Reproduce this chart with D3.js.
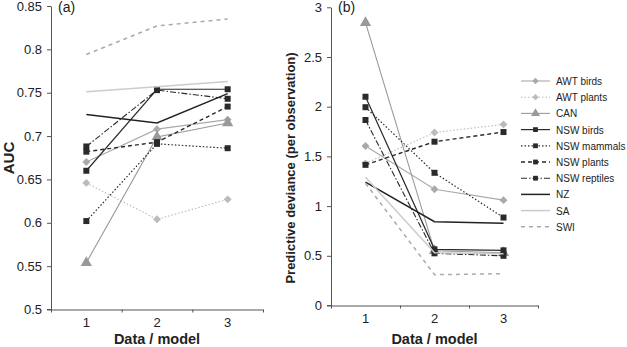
<!DOCTYPE html>
<html>
<head>
<meta charset="utf-8">
<script src="https://cdn.jsdelivr.net/npm/d3@7"></script>
<style>
body{margin:0;background:#fff;}
text{font-family:"Liberation Sans",Arial,sans-serif;}
</style>
</head>
<body>
<div id="chart"></div>
<script>
var categories=[1,2,3];
var seriesNames=["AWT birds","AWT plants","CAN","NSW birds","NSW mammals","NSW plants","NSW reptiles","NZ","SA","SWI"];
// panel (a) AUC, one array per series, same order as seriesNames
var aucValues=[
	[0.670,0.708,0.719],
	[0.646,0.604,0.627],
	[0.554,0.699,0.715],
	[0.660,0.754,0.754],
	[0.602,0.691,0.686],
	[0.682,0.693,0.734],
	[0.688,0.753,0.743],
	[0.725,0.715,0.749],
	[0.751,0.757,0.763],
	[0.794,0.827,0.835]
];
// panel (b) predictive deviance
var devValues=[
	[1.605,1.170,1.060],
	[1.430,1.740,1.822],
	[2.845,0.550,0.530],
	[2.100,0.565,0.555],
	[1.995,1.335,0.885],
	[1.415,1.648,1.745],
	[1.866,0.525,0.500],
	[1.242,0.843,0.827],
	[1.290,0.530,0.520],
	[1.230,0.310,0.320]
];
var aucTicks=[0.5,0.55,0.6,0.65,0.7,0.75,0.8,0.85];
var devTicks=[0,0.5,1,1.5,2,2.5,3];

// line / marker look for each series
var styles={
	"AWT birds":{color:"#aaa",dash:null,marker:"diamond",w:1.1},
	"AWT plants":{color:"#bbb",dash:"1.5,2",marker:"diamond",w:1.1},
	"CAN":{color:"#999",dash:null,marker:"triangle",w:1.1},
	"NSW birds":{color:"#2a2a2a",dash:null,marker:"square",w:1.2},
	"NSW mammals":{color:"#2a2a2a",dash:"1.5,2",marker:"square",w:1.2},
	"NSW plants":{color:"#2a2a2a",dash:"4,3",marker:"square",w:1.4},
	"NSW reptiles":{color:"#2a2a2a",dash:"6,2,1.5,2",marker:"square",w:1.1},
	"NZ":{color:"#222",dash:null,marker:null,w:1.5},
	"SA":{color:"#ccc",dash:null,marker:null,w:1.5},
	"SWI":{color:"#aaa",dash:"4,4",marker:null,w:1.5}
};

var svg=d3.select("#chart").append("svg").attr("width",627).attr("height",347);

function markerPath(type){
	if(type=="diamond")return d3.symbol().type(d3.symbolDiamond2).size(40)();
	if(type=="triangle")return d3.symbol().type(d3.symbolTriangle).size(55)();
	if(type=="square")return d3.symbol().type(d3.symbolSquare).size(36)();
	return null;
}

function drawPanel(cfg){
	var g=svg.append("g");
	var x=d3.scaleLinear().domain([0.5,3.5]).range([cfg.x0,cfg.x1]);
	var y=d3.scaleLinear().domain(cfg.yDomain).range([cfg.yBottom,cfg.yTop]);

	//=============axes=============
	var yAxis=d3.axisLeft(y).tickValues(cfg.ticks).tickSize(4).tickSizeOuter(0).tickPadding(5)
		.tickFormat(function(d){return cfg.fmt(d);});
	var ya=g.append("g").attr("transform","translate("+cfg.x0+",0)").call(yAxis);
	ya.select(".domain").attr("stroke","#555");
	ya.selectAll(".tick line").attr("stroke","#555");
	ya.selectAll("text").attr("font-size",13).attr("fill","#222");

	var xAxis=d3.axisBottom(x).tickValues([0.5,1.5,2.5,3.5]).tickSize(3).tickSizeOuter(0).tickFormat("");
	var xa=g.append("g").attr("transform","translate(0,"+cfg.yBottom+")").call(xAxis);
	xa.select(".domain").attr("stroke","#555");
	xa.selectAll(".tick line").attr("stroke","#555");
	// little tick out to the left of the origin
	xa.append("line").attr("x1",cfg.x0-4).attr("x2",cfg.x0).attr("y1",0).attr("y2",0).attr("stroke","#555");

	g.append("g").selectAll("text").data(categories).enter().append("text")
		.attr("x",function(d){return x(d);})
		.attr("y",cfg.yBottom+17)
		.attr("text-anchor","middle").attr("font-size",13).attr("fill","#222")
		.text(function(d){return d;});

	g.append("text").attr("x",(cfg.x0+cfg.x1)/2).attr("y",344)
		.attr("text-anchor","middle").attr("font-size",14.5).attr("font-weight","bold").attr("fill","#222")
		.text("Data / model");
	g.append("text").attr("transform","translate("+cfg.titleX+","+cfg.titleY+") rotate(-90)")
		.attr("text-anchor","middle").attr("font-size",cfg.titleSize).attr("font-weight","bold").attr("fill","#222")
		.text(cfg.title);
	g.append("text").attr("x",cfg.x0+7).attr("y",12).attr("font-size",14).attr("fill","#222").text(cfg.label);

	//=============lines=============
	var line=d3.line().x(function(d,i){return x(categories[i]);}).y(function(d){return y(d);});
	var series=g.append("g").selectAll("g").data(seriesNames).enter().append("g");
	series.append("path")
		.attr("d",function(d,i){return line(cfg.values[i]);})
		.attr("fill","none")
		.attr("stroke",function(d){return styles[d].color;})
		.attr("stroke-width",function(d){return styles[d].w;})
		.attr("stroke-dasharray",function(d){return styles[d].dash;});
	series.each(function(name,si){
		var st=styles[name];
		if(!st.marker)return;
		d3.select(this).selectAll("path.mk").data(cfg.values[si]).enter().append("path").attr("class","mk")
			.attr("d",markerPath(st.marker))
			.attr("fill",st.color)
			.attr("transform",function(d,i){return "translate("+x(categories[i])+","+y(d)+")";});
	});
}

drawPanel({x0:51,x1:263,yBottom:309.5,yTop:6,yDomain:[0.5,0.85],ticks:aucTicks,
	fmt:function(d){return d3.format("")(+d.toFixed(2));},values:aucValues,
	title:"AUC",titleX:14,titleY:158,titleSize:15,label:"(a)"});
drawPanel({x0:331,x1:538,yBottom:305.5,yTop:7.3,yDomain:[0,3],ticks:devTicks,
	fmt:function(d){return d3.format("")(d);},values:devValues,
	title:"Predictive deviance (per observation)",titleX:295,titleY:168,titleSize:13,label:"(b)"});

//=============legend=============
var legend=svg.append("g").attr("transform","translate(521,81)");
var rows=legend.selectAll("g").data(seriesNames).enter().append("g")
	.attr("transform",function(d,i){return "translate(0,"+(i*16.2)+")";});
rows.append("line").attr("x1",0).attr("x2",29).attr("y1",0).attr("y2",0)
	.attr("stroke",function(d){return styles[d].color;})
	.attr("stroke-width",function(d){return styles[d].w;})
	.attr("stroke-dasharray",function(d){return styles[d].dash;});
rows.filter(function(d){return styles[d].marker;}).append("path")
	.attr("d",function(d){return markerPath(styles[d].marker);})
	.attr("fill",function(d){return styles[d].color;})
	.attr("transform","translate(14.5,0) scale(0.8)");
rows.append("text").attr("x",35).attr("y",4).attr("font-size",10).attr("fill","#222")
	.text(function(d){return d;});
</script>
</body>
</html>
